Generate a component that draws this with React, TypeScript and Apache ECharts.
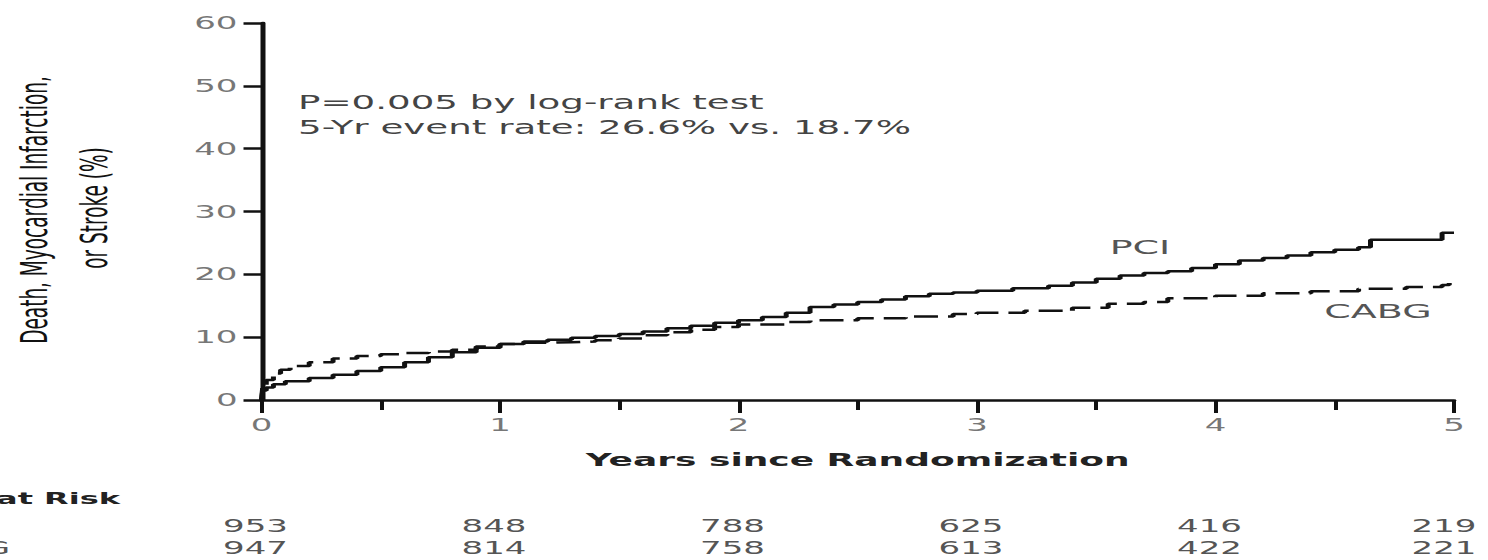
import React, { useEffect, useRef } from 'react';
import * as echarts from 'echarts';

// ---- data ----
const yearTicks = [0, 1, 2, 3, 4, 5];
const percentTicks = [0, 10, 20, 30, 40, 50, 60];

const pciTimes = [0, 0.005, 0.02, 0.05, 0.1, 0.2, 0.3, 0.4, 0.5, 0.6, 0.7, 0.8, 0.9, 1.0, 1.1, 1.2, 1.3, 1.4, 1.5, 1.6, 1.7, 1.8, 1.9, 2.0, 2.1, 2.2, 2.3, 2.4, 2.5, 2.6, 2.7, 2.8, 2.9, 3.0, 3.15, 3.3, 3.4, 3.5, 3.6, 3.7, 3.8, 3.9, 4.0, 4.1, 4.2, 4.3, 4.4, 4.5, 4.6, 4.65, 4.95, 5.0];
const pciValues = [0, 1.5, 2.0, 2.5, 3.0, 3.5, 4.0, 4.6, 5.2, 6.0, 6.8, 7.6, 8.3, 8.9, 9.3, 9.6, 9.9, 10.2, 10.5, 10.9, 11.4, 11.8, 12.3, 12.7, 13.2, 13.9, 14.8, 15.2, 15.6, 16.0, 16.5, 16.9, 17.1, 17.4, 17.8, 18.2, 18.7, 19.3, 19.8, 20.2, 20.5, 21.0, 21.6, 22.2, 22.6, 23.0, 23.5, 23.9, 24.3, 25.5, 26.6, 26.6];

const cabgTimes = [0, 0.005, 0.02, 0.05, 0.08, 0.12, 0.2, 0.3, 0.4, 0.5, 0.6, 0.7, 0.8, 0.9, 1.0, 1.1, 1.2, 1.3, 1.4, 1.5, 1.6, 1.7, 1.8, 1.9, 2.0, 2.2, 2.3, 2.5, 2.7, 2.9, 3.0, 3.2, 3.4, 3.55, 3.7, 3.8, 4.0, 4.2, 4.4, 4.6, 4.8, 4.95, 4.98, 5.0];
const cabgValues = [0, 2.0, 3.2, 4.2, 4.8, 5.4, 6.0, 6.6, 7.0, 7.3, 7.5, 7.7, 8.0, 8.5, 8.9, 9.1, 9.2, 9.3, 9.5, 9.8, 10.3, 10.8, 11.2, 11.6, 12.0, 12.4, 12.7, 13.0, 13.3, 13.7, 13.9, 14.2, 14.7, 15.3, 15.6, 16.2, 16.6, 17.0, 17.3, 17.7, 18.0, 18.3, 18.7, 18.7];

const atRiskYears = [0, 1, 2, 3, 4, 5];
const atRiskPCI = [953, 848, 788, 625, 416, 219];
const atRiskCABG = [947, 814, 758, 613, 422, 221];

const annotationLines = ['P=0.005 by log-rank test', '5-Yr event rate: 26.6% vs. 18.7%'];
const yTitleLines = ['Death, Myocardial Infarction,', 'or Stroke (%)'];
const xTitle = 'Years since Randomization';

const FONT = 'DejaVu Sans';

export default function App() {
  const ref = useRef<HTMLDivElement>(null);
  useEffect(() => {
    if (!ref.current) return;
    const chart = echarts.init(ref.current, undefined, { renderer: 'svg' });
    const axisColor = '#111';
    const base: any = {
      animation: false,
      backgroundColor: '#fff',
      grid: { left: 130.75, right: 17, top: 23, bottom: 160 },
      xAxis: {
        type: 'value', min: 0, max: 5, interval: 1,
        axisLine: { show: true, lineStyle: { color: axisColor, width: 2.5 } },
        axisTick: { show: true, length: 13, lineStyle: { color: axisColor, width: 2 } },
        minorTick: { show: true, splitNumber: 2, length: 10, lineStyle: { color: axisColor, width: 2 } },
        splitLine: { show: false },
        axisLabel: { fontSize: 17, color: '#777', fontFamily: FONT, margin: 16, formatter: (v: number) => (yearTicks.includes(v) ? String(v) : '') },
        name: xTitle, nameLocation: 'middle', nameGap: 51,
        nameTextStyle: { fontSize: 18, fontWeight: 'bold', color: '#222', fontFamily: FONT },
      },
      yAxis: {
        type: 'value', min: 0, max: 60, interval: 10,
        axisLine: { show: true, lineStyle: { color: axisColor, width: 2.5 } },
        axisTick: { show: true, length: 9, lineStyle: { color: axisColor, width: 2.5 } },
        splitLine: { show: false },
        axisLabel: { fontSize: 17, color: '#777', fontFamily: FONT, margin: 12, formatter: (v: number) => (percentTicks.includes(v) ? String(v) : '') },
      },
      series: [
        {
          name: 'PCI', type: 'line', step: 'end', showSymbol: false,
          data: pciTimes.map((t, i) => [t, pciValues[i]]),
          lineStyle: { color: '#111', width: 2.5 },
        },
        {
          name: 'CABG', type: 'line', step: 'end', showSymbol: false,
          data: cabgTimes.map((t, i) => [t, cabgValues[i]]),
          lineStyle: { color: '#111', width: 2.5, type: [12, 5] },
        },
      ],
    };
    chart.setOption(base);

    const graphic: any[] = [];
    annotationLines.forEach((line, i) => {
      graphic.push({ type: 'text', x: 149, y: 103 + i * 25, style: { text: line, fontSize: 18.6, fontFamily: FONT, fill: '#444', textAlign: 'left', textVerticalAlign: 'middle' } });
    });
    graphic.push({ type: 'text', x: 570, y: 247, style: { text: 'PCI', fontSize: 19, fontFamily: FONT, fill: '#555', textAlign: 'center', textVerticalAlign: 'middle' } });
    graphic.push({ type: 'text', x: 689, y: 311, style: { text: 'CABG', fontSize: 19, fontFamily: FONT, fill: '#555', textAlign: 'center', textVerticalAlign: 'middle' } });
    graphic.push({ type: 'text', x: 17, y: 210, rotation: Math.PI / 2, style: { text: yTitleLines[0], fontSize: 18.5, fontFamily: FONT, fill: '#111', textAlign: 'center', textVerticalAlign: 'middle' } });
    graphic.push({ type: 'text', x: 47, y: 208, rotation: Math.PI / 2, style: { text: yTitleLines[1], fontSize: 18.5, fontFamily: FONT, fill: '#111', textAlign: 'center', textVerticalAlign: 'middle' } });
    graphic.push({ type: 'text', x: 60, y: 499, style: { text: 'No. at Risk', fontSize: 16, fontWeight: 'bold', fontFamily: FONT, fill: '#222', textAlign: 'right', textVerticalAlign: 'middle' } });
    graphic.push({ type: 'text', x: 5, y: 548, style: { text: 'CABG', fontSize: 17, fontFamily: FONT, fill: '#555', textAlign: 'right', textVerticalAlign: 'middle' } });
    atRiskYears.forEach((yr, i) => {
      const px = chart.convertToPixel({ xAxisIndex: 0 }, yr) as number;
      const cx = Math.min(px - 3, 722);
      graphic.push({ type: 'text', x: cx, y: 526, style: { text: String(atRiskPCI[i]), fontSize: 17, fontFamily: FONT, fill: '#555', textAlign: 'center', textVerticalAlign: 'middle' } });
      graphic.push({ type: 'text', x: cx, y: 548, style: { text: String(atRiskCABG[i]), fontSize: 17, fontFamily: FONT, fill: '#555', textAlign: 'center', textVerticalAlign: 'middle' } });
    });
    chart.setOption({ graphic });

    return () => chart.dispose();
  }, []);
  return (
    <div
      ref={ref}
      style={{ position: 'fixed', left: 0, top: 0, width: 744, height: 560, transform: 'scaleX(2)', transformOrigin: '0 0', background: '#fff' }}
    />
  );
}
